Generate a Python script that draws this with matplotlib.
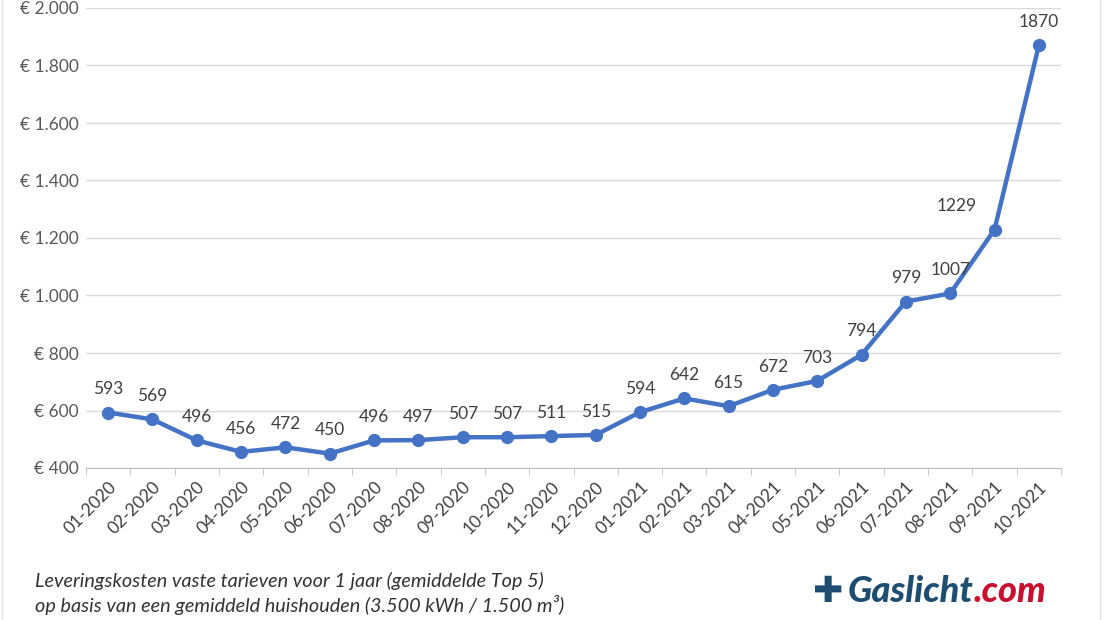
import matplotlib.pyplot as plt
from matplotlib.ticker import FuncFormatter, FixedLocator

months = ["01-2020", "02-2020", "03-2020", "04-2020", "05-2020", "06-2020",
          "07-2020", "08-2020", "09-2020", "10-2020", "11-2020", "12-2020",
          "01-2021", "02-2021", "03-2021", "04-2021", "05-2021", "06-2021",
          "07-2021", "08-2021", "09-2021", "10-2021"]
kosten = [593, 569, 496, 456, 472, 450, 496, 497, 507, 507, 511, 515,
          594, 642, 615, 672, 703, 794, 979, 1007, 1229, 1870]

plt.rcParams['font.family'] = ['Lato', 'DejaVu Sans']

fig = plt.figure(figsize=(11.04, 6.2), dpi=100)
ax = fig.add_axes([86/1104, 1 - 468/620, 975/1104, 460/620])

x = list(range(len(months)))
ax.plot(x, kosten, '-o', color='#4472C4', lw=3.2, ms=8.5, zorder=3)

# data labels, 1229 shifted left like in the original
for i, v in zip(x, kosten):
    dx = -27 if v == 1229 else 0
    ax.annotate(str(v), (i, v), xytext=(dx, 11), textcoords='offset points',
                ha='center', va='bottom', fontsize=12.5, color='#404040')

ax.set_xlim(-0.5, len(months) - 0.5)
ax.set_ylim(400, 2000)
ax.set_yticks(range(400, 2001, 200))
ax.yaxis.set_major_formatter(FuncFormatter(
    lambda v, p: "€ " + format(int(v), ",").replace(",", ".")))
ax.grid(axis='y', color='#d9d9d9', lw=1)
ax.set_axisbelow(True)

ax.set_xticks(x)
ax.set_xticklabels(months, rotation=45, ha='right', rotation_mode='anchor')
ax.xaxis.set_minor_locator(FixedLocator([i - 0.5 for i in range(len(months) + 1)]))
ax.tick_params(axis='x', which='major', length=0, pad=8,
               labelsize=12.5, labelcolor='#404040')
ax.tick_params(axis='x', which='minor', length=5, color='#bfbfbf')
ax.tick_params(axis='y', length=0, pad=5, labelsize=12.5, labelcolor='#595959')

for s in ['top', 'right', 'left']:
    ax.spines[s].set_visible(False)
ax.spines['bottom'].set_color('#bfbfbf')

fig.text(35/1104, 1 - 581/620, "Leveringskosten vaste tarieven voor 1 jaar (gemiddelde Top 5)",
         fontsize=14.3, style='italic', color='#333333', va='center')
fig.text(35/1104, 1 - 605/620, "op basis van een gemiddeld huishouden (3.500 kWh / 1.500 m³)",
         fontsize=14.3, style='italic', color='#333333', va='center')

# logo
t1 = fig.text(848/1104, 1 - 592/620, "Gaslicht", fontsize=26, weight='black',
              style='italic', color='#1d4e72', va='center')
ax.annotate(".com", xy=(1, 0.5), xycoords=t1, fontsize=26, weight='black',
            style='italic', color='#c8102e', va='center', ha='left')
fig.text(828/1104, 1 - 592/620, "✚", fontsize=26, color='#1d4e72',
         ha='center', va='center', family='DejaVu Sans')

# thin frame lines
fig.add_artist(plt.Line2D([2/1104, 2/1104], [0, 1], color='#e0e0e0', lw=1))
fig.add_artist(plt.Line2D([1100/1104, 1100/1104], [0, 1], color='#e0e0e0', lw=1))

fig.savefig("out.png", dpi=100)
